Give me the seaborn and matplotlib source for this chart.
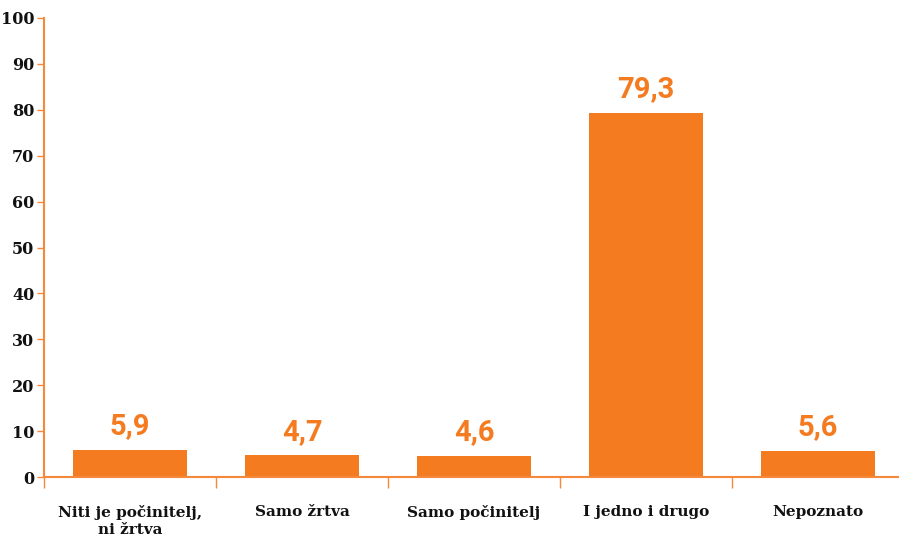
import matplotlib
matplotlib.use("Agg")
import matplotlib.pyplot as plt
import pandas as pd
import seaborn as sns

# Data
categories = ["Niti je počinitelj,\nni žrtva", "Samo žrtva", "Samo počinitelj",
              "I jedno i drugo", "Nepoznato"]
values = [5.9, 4.7, 4.6, 79.3, 5.6]
value_labels = ["5,9", "4,7", "4,6", "79,3", "5,6"]
y_ticks = [0, 10, 20, 30, 40, 50, 60, 70, 80, 90, 100]

orange = "#F47B20"
axis_orange = "#F5883A"

sns.set_theme(style="white")
plt.rcParams["font.family"] = ["DejaVu Serif"]

df = pd.DataFrame({"category": categories, "value": values})

fig = plt.figure(figsize=(8.99, 5.37), dpi=100)
ax = fig.add_axes([44 / 899, 1 - 477 / 537, 860 / 899, 459 / 537])

sns.barplot(data=df, x="category", y="value", color=orange, saturation=1,
            width=0.66, ax=ax, edgecolor="none")

ax.set_xlim(-0.5, 4.5)
ax.set_ylim(0, 100)
ax.set_yticks(y_ticks)
ax.set_yticklabels([str(t) for t in y_ticks], fontsize=11.5, fontweight="bold",
                   color="#111111")

# category ticks at the boundaries, labels centred under bars
ax.set_xticks([i - 0.5 for i in range(len(categories))])
ax.set_xticklabels([])
ax.tick_params(axis="x", which="major", bottom=True, direction="out", length=8,
               width=1, color=axis_orange)
ax.set_xticks(range(len(categories)), minor=True)
ax.set_xticklabels(categories, minor=True, fontsize=11, fontweight="bold",
                   color="#111111", linespacing=1.25, va="top")
ax.tick_params(axis="x", which="minor", bottom=True, length=0, pad=20.5)
ax.tick_params(axis="y", left=True, direction="out", length=5, width=1,
               color=axis_orange, pad=2)

ax.set_xlabel("")
ax.set_ylabel("")

for s in ["top", "right"]:
    ax.spines[s].set_visible(False)
for s in ["left", "bottom"]:
    ax.spines[s].set_color(axis_orange)
    ax.spines[s].set_linewidth(1.5)

ax.bar_label(ax.containers[0], labels=value_labels, padding=7, fontsize=21,
             fontweight="bold", color=orange, family="Roboto")

fig.savefig("out.png", dpi=100)
